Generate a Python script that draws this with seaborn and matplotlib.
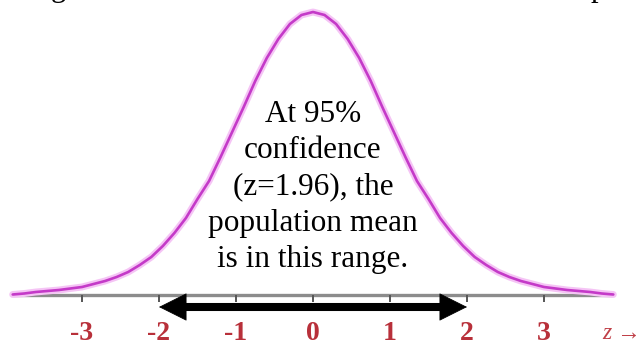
import matplotlib
matplotlib.use('Agg')
import numpy as np
import pandas as pd
import seaborn as sns
import matplotlib.pyplot as plt

# curve: z value and height above the axis (pixels, peak = 283)
z_vals = [-3.9, -3.75, -3.6, -3.45, -3.3, -3.15, -3.0, -2.85, -2.7, -2.55, -2.4, -2.25,
          -2.1, -1.95, -1.8, -1.65, -1.5, -1.35, -1.2, -1.05, -0.9, -0.75, -0.6, -0.45,
          -0.3, -0.15, 0.0, 0.15, 0.3, 0.45, 0.6, 0.75, 0.9, 1.05, 1.2, 1.35, 1.5, 1.65,
          1.8, 1.95, 2.1, 2.25, 2.4, 2.55, 2.7, 2.85, 3.0, 3.15, 3.3, 3.45, 3.6, 3.75, 3.9]
heights = [0.5, 1.5, 3, 4, 5, 6.5, 8, 11, 14, 18, 23, 30,
           38, 49, 62, 77, 96, 114, 138, 163, 188, 214, 237, 256,
           271, 280, 283, 280, 271, 256, 237, 214, 188, 163, 138, 114, 96, 77,
           62, 49, 38, 30, 23, 18, 14, 11, 8, 6.5, 5, 4, 3, 1.5, 0.5]

tick_pos = [-3, -2, -1, 0, 1, 2, 3]
tick_labels = ['-3', '-2', '-1', '0', '1', '2', '3']
note_lines = ['At 95%', 'confidence', '(z=1.96), the', 'population mean', 'is in this range.']
z_crit = 1.96

df = pd.DataFrame({'z': z_vals, 'h': heights})

sns.set_theme(style='white')
plt.rcParams['font.family'] = ['Liberation Serif', 'DejaVu Serif']

fig = plt.figure(figsize=(6.42, 3.45), dpi=100)
ax = fig.add_axes([0, 0, 1, 1])
ax.set_xlim(-313 / 77, (642 - 313) / 77)
ax.set_ylim(-50, 295)
ax.axis('off')

# axis line and ticks
ax.hlines(0, -3.9, 3.88, color='#8c8c8c', lw=2.4, zorder=1)
ax.vlines(tick_pos, -7, 0, color='#555555', lw=1.4, zorder=1)

# bell curve with a soft glow
sns.lineplot(data=df, x='z', y='h', color='#f5c4f5', lw=5, ax=ax, zorder=2)
sns.lineplot(data=df, x='z', y='h', color='#c43ac8', lw=1.9, ax=ax, zorder=3)

# double arrow for the 95% range
ax.hlines(-12, -z_crit + 0.15, z_crit - 0.15, color='black', lw=5.8, zorder=4)
ax.annotate('', xy=(z_crit + 0.04, -12), xytext=(-z_crit - 0.04, -12),
            arrowprops=dict(arrowstyle='<|-|>,head_length=1.58,head_width=0.79',
                            color='black', lw=0.5, shrinkA=0, shrinkB=0), zorder=4)

for p, lab in zip(tick_pos, tick_labels):
    ax.text(p, -45, lab, ha='center', va='baseline', fontsize=20,
            fontweight='bold', color='#b8303a')
ax.text((602 - 313) / 77, -44, 'z \u2192', ha='left', va='baseline', fontsize=17,
        style='italic', color='#c04048')

# note in the middle
for txt, yb in zip(note_lines, [173, 137, 101, 64, 28]):
    ax.text(0, yb, txt, ha='center', va='baseline', fontsize=22.5, color='black')

# descenders of the cut-off heading above
ax.text((58 - 313) / 77, 299, 'g', ha='center', va='baseline', fontsize=22,
        color='black', clip_on=False)
ax.text((598 - 313) / 77, 299, 'p', ha='center', va='baseline', fontsize=22,
        color='black', clip_on=False)

fig.savefig('out.png', dpi=100)
